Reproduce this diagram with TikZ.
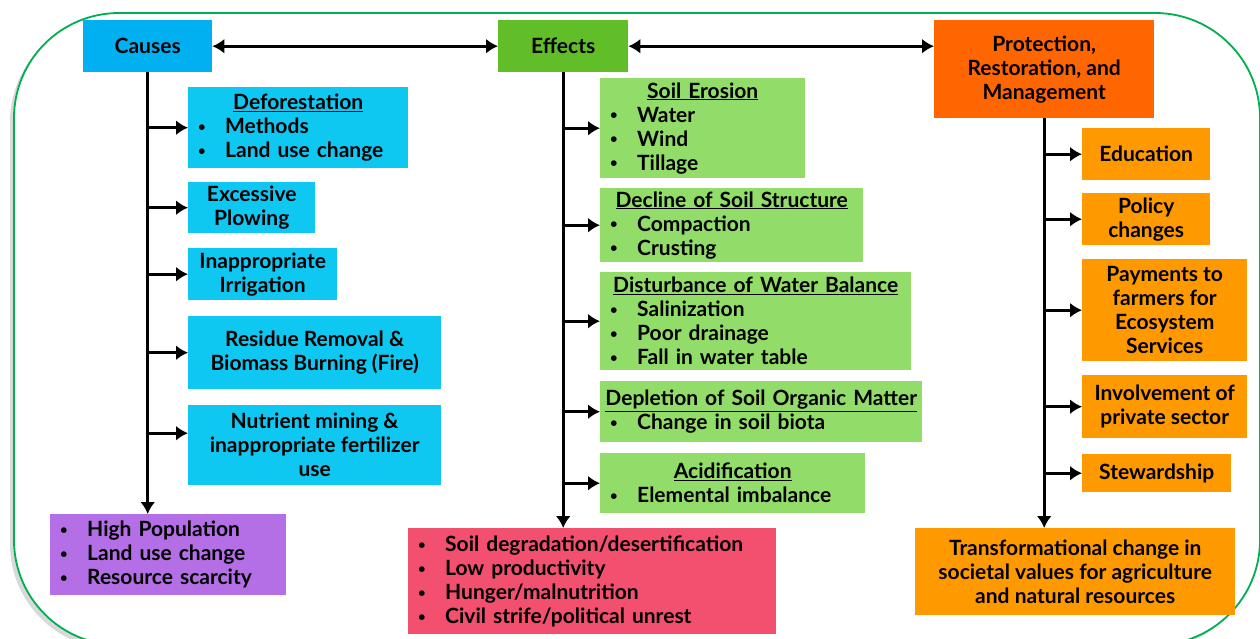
\documentclass[tikz,border=0pt]{standalone}
\usepackage{fontspec}
\setmainfont{Lato}
\usetikzlibrary{arrows.meta,shadows,positioning}

\definecolor{causehead}{RGB}{0,176,240}
\definecolor{causeitem}{RGB}{15,200,242}
\definecolor{effhead}{RGB}{98,190,40}
\definecolor{effitem}{RGB}{146,220,105}
\definecolor{prothead}{RGB}{255,102,0}
\definecolor{protitem}{RGB}{255,153,0}
\definecolor{popbox}{RGB}{180,110,230}
\definecolor{outbox}{RGB}{242,80,110}
\definecolor{frameline}{RGB}{0,176,80}

\newcommand\itm[1]{\makebox[27pt][l]{\raisebox{.2ex}{\scalebox{.62}{\textbullet}}}#1}
\newcommand\ttl[1]{\makebox[\hsize]{\underline{#1}}}

\begin{document}
\begin{tikzpicture}[x=1pt,y=-1pt,
    box/.style={anchor=north west,inner sep=0pt,align=center,
                font=\fontsize{21}{24}\selectfont\bfseries},
    lbox/.style={box,align=left,inner xsep=10pt},
    arr/.style={line width=3.2pt,-{Latex[length=12pt,width=15pt]}},
    darr/.style={line width=3.2pt,{Latex[length=12pt,width=15pt]}-{Latex[length=12pt,width=15pt]}}]

        \useasboundingbox (0,0) rectangle (1260,638);
        \clip (0,0) rectangle (1260,638);

        % frame
        \draw[frameline,line width=1.8pt,fill=white,rounded corners=105pt,
              drop shadow={shadow xshift=-4pt,shadow yshift=-4pt,opacity=.3}]
              (14,13) rectangle (1260,645);

        % causes
        \node[box,fill=causehead,minimum width=129,minimum height=52] (C00) at (83,20)  {Causes};
        \node[lbox,fill=causeitem,minimum width=220,minimum height=81,text width=200] (C01) at (188,87)
              {\ttl{Deforestation}\\\itm{Methods}\\\itm{Land use change}};
        \node[box,fill=causeitem,minimum width=127,minimum height=51] (C02) at (188,182) {Excessive\\Plowing};
        \node[box,fill=causeitem,minimum width=149,minimum height=52] (C03) at (188,248) {Inappropriate\\Irrigation};
        \node[box,fill=causeitem,minimum width=253,minimum height=73] (C04) at (188,316) {Residue Removal \&\\Biomass Burning (Fire)};
        \node[box,fill=causeitem,minimum width=253,minimum height=80] (C05) at (188,405) {Nutrient mining \&\\inappropriate fertilizer\\use};
        \node[lbox,fill=popbox,minimum width=236,minimum height=81,text width=216] (C06) at (50,514)
              {\itm{High Population}\\\itm{Land use change}\\\itm{Resource scarcity}};
        \coordinate (C05in) at ([yshift=12pt]C05.west);

        % effects
        \node[box,fill=effhead,minimum width=130,minimum height=52] (E00) at (498,20) {Effects};
        \node[lbox,fill=effitem,minimum width=205,minimum height=100,text width=185] (E01) at (600,78)
              {\ttl{Soil Erosion}\\\itm{Water}\\\itm{Wind}\\\itm{Tillage}};
        \node[lbox,fill=effitem,minimum width=263,minimum height=74,text width=243] (E02) at (600,188)
              {\ttl{Decline of Soil Structure}\\\itm{Compaction}\\\itm{Crusting}};
        \node[lbox,fill=effitem,minimum width=311,minimum height=98,text width=291] (E03) at (600,272)
              {\ttl{Disturbance of Water Balance}\\\itm{Salinization}\\\itm{Poor drainage}\\\itm{Fall in water table}};
        \node[lbox,fill=effitem,minimum width=322,minimum height=61,text width=302] (E04) at (600,381)
              {\ttl{Depletion of Soil Organic Matter}\\\itm{Change in soil biota}};
        \node[lbox,fill=effitem,minimum width=265,minimum height=60,text width=245] (E05) at (600,453)
              {\ttl{Acidification}\\\itm{Elemental imbalance}};
        \node[lbox,fill=outbox,minimum width=368,minimum height=106,text width=348] (E06) at (408,528)
              {\itm{Soil degradation/desertification}\\\itm{Low productivity}\\\itm{Hunger/malnutrition}\\\itm{Civil strife/political unrest}};

        % protection
        \node[box,fill=prothead,minimum width=220,minimum height=98] (P00) at (934,20) {Protection,\\Restoration, and\\Management};
        \node[box,fill=protitem,minimum width=128,minimum height=52]  (P01) at (1082,128) {Education};
        \node[box,fill=protitem,minimum width=128,minimum height=52]  (P02) at (1082,193) {Policy\\changes};
        \node[box,fill=protitem,minimum width=165,minimum height=102] (P03) at (1082,259) {Payments to\\farmers for\\Ecosystem\\Services};
        \node[box,fill=protitem,minimum width=165,minimum height=63]  (P04) at (1082,375) {Involvement of\\private sector};
        \node[box,fill=protitem,minimum width=149,minimum height=38]  (P05) at (1082,454) {Stewardship};
        \node[box,fill=protitem,minimum width=320,minimum height=87]  (P06) at (915,528)
              {Transformational change in\\societal values for agriculture\\and natural resources};

        \path[darr]
                  (C00) edge (E00)
                  (E00.east) edge (E00.east -| P00.west);

        \path[arr]
                  (C00.south) edge (C00.south |- C06.north)
                  (C00.south |- C01.west) edge (C01.west)
                  (C00.south |- C02.west) edge (C02.west)
                  (C00.south |- C03.west) edge (C03.west)
                  (C00.south |- C04.west) edge (C04.west)
                  (C00.south |- C05in)    edge (C05in)
                  (E00.south) edge (E00.south |- E06.north)
                  (E00.south |- E01.west) edge (E01.west)
                  (E00.south |- E02.west) edge (E02.west)
                  (E00.south |- E03.west) edge (E03.west)
                  (E00.south |- E04.west) edge (E04.west)
                  (E00.south |- E05.west) edge (E05.west)
                  (P00.south) edge (P00.south |- P06.north)
                  (P00.south |- P01.west) edge (P01.west)
                  (P00.south |- P02.west) edge (P02.west)
                  (P00.south |- P03.west) edge (P03.west)
                  (P00.south |- P04.west) edge (P04.west)
                  (P00.south |- P05.west) edge (P05.west);
      \end{tikzpicture}
\end{document}
